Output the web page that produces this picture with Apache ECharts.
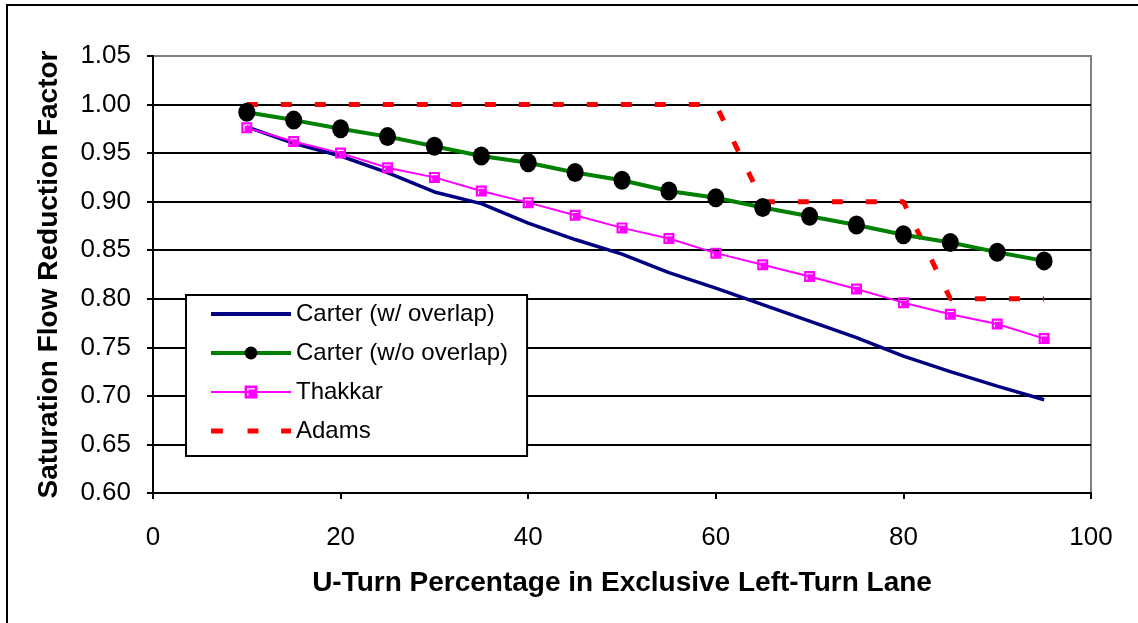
<!DOCTYPE html>
<html>
<head>
<meta charset="utf-8">
<script src="https://cdn.jsdelivr.net/npm/echarts@6.0.0/dist/echarts.min.js"></script>
<style>
  html, body { margin: 0; padding: 0; background: #fff; }
  #chart { width: 1138px; height: 623px; }
</style>
</head>
<body>
<div id="chart"></div>
<script>
// U-turn share (%) in the exclusive left-turn lane
const uTurnPct = [10, 15, 20, 25, 30, 35, 40, 45, 50, 55, 60, 65, 70, 75, 80, 85, 90, 95];

// saturation flow reduction factor
const carterOverlap = [0.977, 0.960, 0.947, 0.930, 0.910, 0.898, 0.878, 0.861, 0.846,
                       0.827, 0.811, 0.794, 0.777, 0.760, 0.741, 0.725, 0.710, 0.696];
const carterNoOverlap = [0.992, 0.984, 0.975, 0.967, 0.957, 0.947, 0.940, 0.930, 0.922,
                         0.911, 0.904, 0.894, 0.885, 0.876, 0.866, 0.858, 0.848, 0.839];
const thakkar = [0.976, 0.962, 0.950, 0.935, 0.925, 0.911, 0.899, 0.886, 0.873,
                 0.862, 0.847, 0.835, 0.823, 0.810, 0.796, 0.784, 0.774, 0.759];
const adams = [1.00, 1.00, 1.00, 1.00, 1.00, 1.00, 1.00, 1.00, 1.00,
               1.00, 1.00, 0.90, 0.90, 0.90, 0.90, 0.80, 0.80, 0.80];

const seriesNames = ['Carter (w/ overlap)', 'Carter (w/o overlap)', 'Thakkar', 'Adams'];
const xTitle = 'U-Turn Percentage in Exclusive Left-Turn Lane';
const yTitle = 'Saturation Flow Reduction Factor';

const FONT = 'Arial, "Liberation Sans", sans-serif';

function pairs(values) {
    return uTurnPct.map((x, i) => [x, values[i]]);
}

// pink square with a small white corner mark, like the old Excel marker
const squareMark = 'path://M0 0H10V10H0Z M2 2V8H3V3H8V2Z';
// legend sample for the dashed series: three short dashes (tiny corner specks keep the 80x16 box)
const dashIcon = 'path://M0 0L0.01 0L0 0.01Z M81 16L80.99 16L81 15.99Z ' +
                 'M0 5.5H12V10.5H0Z M37 5.5H48V10.5H37Z M71 5.5H81V10.5H71Z';

const chart = echarts.init(document.getElementById('chart'));

chart.setOption({
    animation: false,
    backgroundColor: '#fff',
    graphic: [{
        type: 'rect',
        shape: { x: 7, y: 5, width: 1150, height: 650 },
        style: { fill: 'none', stroke: '#000', lineWidth: 2 },
        silent: true
    }],
    grid: {
        left: 153, right: 47, top: 56, bottom: 130,
        show: true, borderColor: '#808080', borderWidth: 2
    },
    legend: {
        orient: 'vertical',
        left: 186, top: 295,
        padding: [7, 19, 13, 23],
        itemWidth: 80, itemHeight: 16, itemGap: 15,
        backgroundColor: '#fff',
        borderColor: '#000', borderWidth: 2,
        textStyle: { fontFamily: FONT, fontSize: 24, color: '#000', padding: [0, 0, 0, 0] },
        data: [
            { name: seriesNames[0], itemStyle: { opacity: 0 }, lineStyle: { width: 4 } },
            { name: seriesNames[1], lineStyle: { width: 4 } },
            { name: seriesNames[2], lineStyle: { width: 2 } },
            { name: seriesNames[3], icon: dashIcon, itemStyle: { color: '#ff0000' } }
        ]
    },
    xAxis: {
        type: 'value',
        min: 0, max: 100, interval: 20,
        name: xTitle,
        nameLocation: 'middle',
        nameGap: 76,
        nameTextStyle: { fontFamily: FONT, fontSize: 28, fontWeight: 'bold', color: '#000' },
        axisLine: { show: true, lineStyle: { color: '#000', width: 2 } },
        axisTick: { show: true, inside: false, length: 6, lineStyle: { color: '#000', width: 2 } },
        axisLabel: { fontFamily: FONT, fontSize: 26, color: '#000', margin: 32 },
        splitLine: { show: false }
    },
    yAxis: {
        type: 'value',
        min: 0.6, max: 1.05, interval: 0.05,
        name: yTitle,
        nameLocation: 'middle',
        nameGap: 90,
        nameTextStyle: { fontFamily: FONT, fontSize: 28, fontWeight: 'bold', color: '#000', padding: [0, 0, 0, 0] },
        axisLine: { show: true, lineStyle: { color: '#000', width: 2 } },
        axisTick: { show: true, inside: false, length: 6, lineStyle: { color: '#000', width: 2 } },
        axisLabel: {
            fontFamily: FONT, fontSize: 26, color: '#000', margin: 22,
            formatter: v => v.toFixed(2)
        },
        splitLine: {
            show: true, showMinLine: false, showMaxLine: false,
            lineStyle: { color: '#000', width: 2 }
        }
    },
    series: [
        {
            name: seriesNames[0],
            type: 'line',
            data: pairs(carterOverlap),
            symbol: 'none',
            lineStyle: { color: '#000080', width: 3.5 },
            itemStyle: { color: '#000080' },
            z: 3
        },
        {
            name: seriesNames[1],
            type: 'line',
            data: pairs(carterNoOverlap),
            symbol: 'circle',
            symbolSize: [17, 19],
            lineStyle: { color: '#008000', width: 4 },
            itemStyle: { color: '#000', borderWidth: 0 },
            z: 4
        },
        {
            name: seriesNames[2],
            type: 'line',
            data: pairs(thakkar),
            symbol: squareMark,
            symbolSize: 11,
            lineStyle: { color: '#ff00ff', width: 2 },
            itemStyle: { color: '#ff00ff', borderWidth: 0 },
            z: 5
        },
        {
            name: seriesNames[3],
            type: 'line',
            data: pairs(adams),
            symbol: 'none',
            lineStyle: { color: '#ff0000', width: 5, type: [11, 23] },
            itemStyle: { color: '#ff0000' },
            z: 2
        }
    ]
});
</script>
</body>
</html>
